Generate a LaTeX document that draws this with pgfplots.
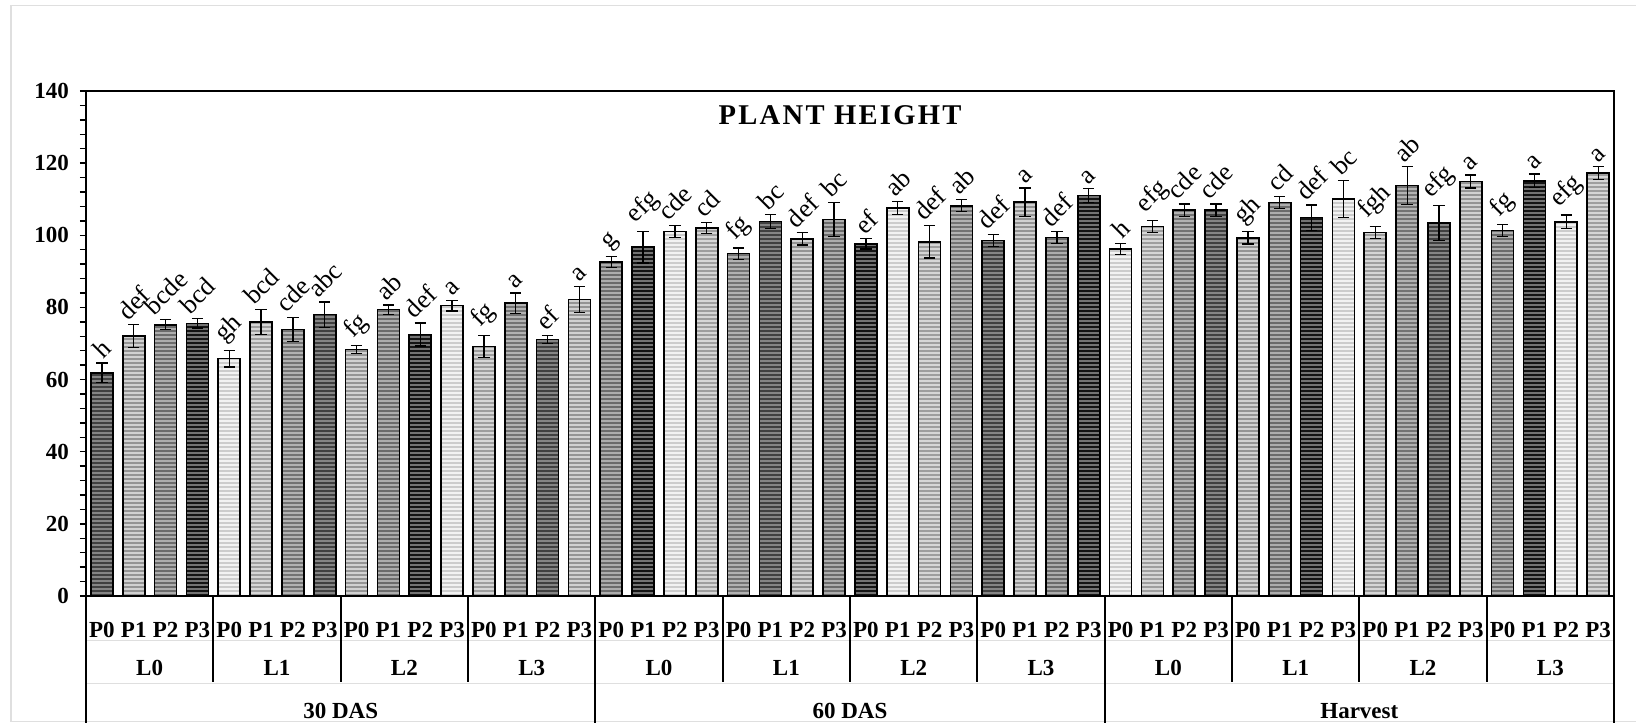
\documentclass[border=0pt]{standalone}
\usepackage{fontspec}
\setmainfont{Liberation Serif}
\newfontfamily\titlefont[LetterSpace=8]{Liberation Serif}
\usepackage{graphicx}
\usepackage{pgfplots}
\usepackage{pgfplotstable}
\pgfplotsset{compat=1.18}
\usetikzlibrary{patterns.meta}

\pgfplotstableread{
x y e lab s
0 61.9 2.7 h 1
1 72.0 3.2 def 2
2 75.2 1.4 bcde 3
3 75.6 1.3 bcd 4
4 65.8 2.3 gh 5
5 76.0 3.5 bcd 6
6 73.9 3.3 cde 7
7 78.0 3.5 abc 1
8 68.3 1.1 fg 2
9 79.4 1.3 ab 3
10 72.5 3.2 def 4
11 80.5 1.5 a 5
12 69.2 3.1 fg 6
13 81.2 2.8 a 7
14 71.1 1.2 ef 1
15 82.2 3.6 a 2
16 92.6 1.5 g 3
17 96.7 4.4 efg 4
18 101.1 1.7 cde 5
19 102.0 1.6 cd 6
20 94.9 1.6 fg 7
21 103.8 1.9 bc 1
22 99.0 1.7 def 2
23 104.4 4.8 bc 3
24 97.6 1.4 ef 4
25 107.6 1.8 ab 5
26 98.2 4.5 def 6
27 108.2 1.7 ab 7
28 98.6 1.6 def 1
29 109.2 3.9 a 2
30 99.4 1.6 def 3
31 111.0 1.9 a 4
32 96.2 1.6 h 5
33 102.4 1.7 efg 6
34 107.0 1.7 cde 7
35 107.0 1.7 cde 1
36 99.3 1.7 gh 2
37 109.1 1.7 cd 3
38 104.9 3.5 def 4
39 110.1 5.1 bc 5
40 100.8 1.7 fgh 6
41 113.8 5.2 ab 7
42 103.4 4.8 efg 1
43 114.9 1.8 a 2
44 101.3 1.7 fg 3
45 115.1 1.9 a 4
46 103.7 1.9 efg 5
47 117.2 1.8 a 6
}\data

\pgfplotsset{
  bsty/.style n args={3}{ybar, bar width=0.69, bar shift=0, draw=black, line width=0.8pt, fill=#1,
    postaction={pattern={Lines[angle=0,distance=2pt,line width=0.9pt]}, pattern color=#2, draw=black, line width=0.8pt},
    restrict expr to domain={\thisrow{s}}{#3:#3}},
}
\newcommand{\lab}{\bfseries\fontsize{11.5}{13}\selectfont}

\begin{document}
\begin{tikzpicture}
\useasboundingbox (0,0) rectangle (818pt,361.5pt);
\draw[gray!25, line width=0.7pt] (5.5pt,0.7pt) -- (5.5pt,358.6pt) -- (818pt,358.6pt);
\draw[gray!25, line width=0.7pt] (5.5pt,0.7pt) -- (818pt,0.7pt);
\begin{axis}[
  at={(43pt,63.5pt)}, anchor=south west, scale only axis,
  width=764pt, height=252.5pt,
  xmin=-0.5, xmax=47.5, ymin=0, ymax=140, clip=false,
  axis line style={line width=0.8pt},
  ytick={0,20,...,140}, minor y tick num=4, ytick pos=left,
  tick align=outside, major tick length=3pt, minor tick length=3pt,
  tick style={black, line width=0.7pt},
  yticklabel style={font=\lab, xshift=-2pt},
  /pgf/number format/assume math mode=true,
  xtick={0,...,47},
  xticklabels={P0,P1,P2,P3,P0,P1,P2,P3,P0,P1,P2,P3,P0,P1,P2,P3,P0,P1,P2,P3,P0,P1,P2,P3,P0,P1,P2,P3,P0,P1,P2,P3,P0,P1,P2,P3,P0,P1,P2,P3,P0,P1,P2,P3,P0,P1,P2,P3},
  x tick style={draw=none},
  xticklabel style={font=\lab, anchor=center, yshift=-14pt},
]
\addplot[bsty={black!48}{black!75}{1}] table[x=x,y=y]{\data};
\addplot[bsty={black!18}{black!42}{2}] table[x=x,y=y]{\data};
\addplot[bsty={black!32}{black!58}{3}] table[x=x,y=y]{\data};
\addplot[bsty={black!55}{black!92}{4}] table[x=x,y=y]{\data};
\addplot[bsty={black!5}{black!20}{5}] table[x=x,y=y]{\data};
\addplot[bsty={black!16}{black!38}{6}] table[x=x,y=y]{\data};
\addplot[bsty={black!30}{black!55}{7}] table[x=x,y=y]{\data};

\addplot[draw=none, mark=none, forget plot, error bars/.cd, y dir=both, y explicit,
  error bar style={draw=black, solid, line width=0.6pt},
  error mark options={draw=black, solid, rotate=90, line width=0.6pt, mark size=2.8pt}]
  table[x=x, y=y, y error=e]{\data};

\addplot[draw=none, mark=none, forget plot, point meta=explicit symbolic,
  nodes near coords={\rotatebox{45}{\pgfplotspointmeta}},
  nodes near coords style={anchor=south, inner sep=1pt, yshift=0.5pt, font=\fontsize{13}{15}\selectfont}]
  table[x=x, y expr=\thisrow{y}+\thisrow{e}, meta=lab]{\data};

% category frame
\draw[gray!25, line width=0.5pt] ([yshift=-22pt]axis cs:-0.5,0) -- ([yshift=-22pt]axis cs:47.5,0);
\draw[gray!25, line width=0.5pt] ([yshift=-43.5pt]axis cs:-0.5,0) -- ([yshift=-43.5pt]axis cs:47.5,0);
\draw[line width=1pt] (axis cs:-0.5,0) -- ([yshift=-63.5pt]axis cs:-0.5,0);
\draw[line width=1pt] (axis cs:15.5,0) -- ([yshift=-63.5pt]axis cs:15.5,0);
\draw[line width=1pt] (axis cs:31.5,0) -- ([yshift=-63.5pt]axis cs:31.5,0);
\draw[line width=1pt] (axis cs:47.5,0) -- ([yshift=-63.5pt]axis cs:47.5,0);
\draw[line width=1pt] (axis cs:3.5,0) -- ([yshift=-43pt]axis cs:3.5,0);
\draw[line width=1pt] (axis cs:7.5,0) -- ([yshift=-43pt]axis cs:7.5,0);
\draw[line width=1pt] (axis cs:11.5,0) -- ([yshift=-43pt]axis cs:11.5,0);
\draw[line width=1pt] (axis cs:19.5,0) -- ([yshift=-43pt]axis cs:19.5,0);
\draw[line width=1pt] (axis cs:23.5,0) -- ([yshift=-43pt]axis cs:23.5,0);
\draw[line width=1pt] (axis cs:27.5,0) -- ([yshift=-43pt]axis cs:27.5,0);
\draw[line width=1pt] (axis cs:35.5,0) -- ([yshift=-43pt]axis cs:35.5,0);
\draw[line width=1pt] (axis cs:39.5,0) -- ([yshift=-43pt]axis cs:39.5,0);
\draw[line width=1pt] (axis cs:43.5,0) -- ([yshift=-43pt]axis cs:43.5,0);

\node[font=\lab] at ([yshift=-36pt]axis cs:1.5,0) {L0};
\node[font=\lab] at ([yshift=-36pt]axis cs:5.5,0) {L1};
\node[font=\lab] at ([yshift=-36pt]axis cs:9.5,0) {L2};
\node[font=\lab] at ([yshift=-36pt]axis cs:13.5,0) {L3};
\node[font=\lab] at ([yshift=-36pt]axis cs:17.5,0) {L0};
\node[font=\lab] at ([yshift=-36pt]axis cs:21.5,0) {L1};
\node[font=\lab] at ([yshift=-36pt]axis cs:25.5,0) {L2};
\node[font=\lab] at ([yshift=-36pt]axis cs:29.5,0) {L3};
\node[font=\lab] at ([yshift=-36pt]axis cs:33.5,0) {L0};
\node[font=\lab] at ([yshift=-36pt]axis cs:37.5,0) {L1};
\node[font=\lab] at ([yshift=-36pt]axis cs:41.5,0) {L2};
\node[font=\lab] at ([yshift=-36pt]axis cs:45.5,0) {L3};
\node[font=\lab] at ([yshift=-57.5pt]axis cs:7.5,0) {30 DAS};
\node[font=\lab] at ([yshift=-57.5pt]axis cs:23.5,0) {60 DAS};
\node[font=\lab] at ([yshift=-57.5pt]axis cs:39.5,0) {Harvest};
\end{axis}
\node[font=\titlefont\bfseries\fontsize{14.3}{16}\selectfont] at (420pt,303.75pt) {PLANT HEIGHT};
\end{tikzpicture}
\end{document}
